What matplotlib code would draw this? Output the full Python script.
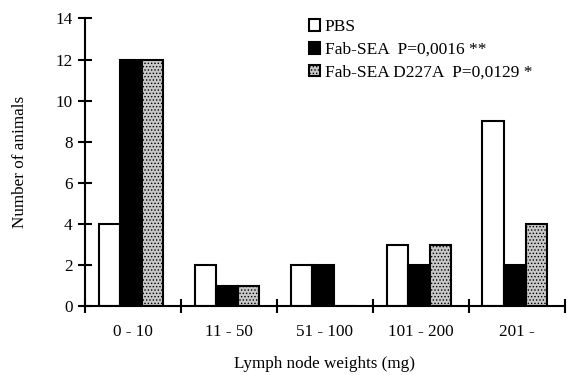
import numpy as np
import matplotlib.pyplot as plt

plt.rcParams['font.family'] = ['Liberation Serif', 'DejaVu Serif']
plt.rcParams['hatch.linewidth'] = 0.6

categories = ['0 - 10', '11 - 50', '51 - 100', '101 - 200', '201 -']
pbs = [4, 2, 2, 3, 9]
fab_sea = [12, 1, 2, 2, 2]
fab_d227a = [12, 1, 0, 3, 4]
labels = ['PBS', 'Fab-SEA  P=0,0016 **', 'Fab-SEA D227A  P=0,0129 *']

fig = plt.figure(figsize=(5.67, 3.75), dpi=100)
ax = fig.add_axes([0.150, 0.183, 0.846, 0.768])

x = np.arange(len(categories)) + 0.5
w = 0.225
ax.bar(x - w - 0.02, pbs, w, facecolor='white', edgecolor='black', linewidth=1.5, label=labels[0])
ax.bar(x - 0.02, fab_sea, w, facecolor='black', edgecolor='black', linewidth=1.5, label=labels[1])
ax.bar(x + w - 0.02, fab_d227a, w, facecolor='#c8c8c8', edgecolor='black', linewidth=1.5,
       hatch='.....', label=labels[2])

ax.set_xlim(0, 5)
ax.set_ylim(0, 14)
ax.set_yticks(range(0, 15, 2))
ax.set_xticks(range(0, 6))
ax.set_xticklabels([])
ax.set_xticks(x, minor=True)
ax.set_xticklabels(categories, minor=True)
ax.tick_params(axis='x', which='minor', length=0, pad=13, labelsize=12.3)
ax.tick_params(axis='x', which='major', direction='inout', length=10, width=1.5)
ax.tick_params(axis='y', direction='inout', length=10, width=1.5, labelsize=12.3, pad=4)

for s in ['top', 'right']:
    ax.spines[s].set_visible(False)
for s in ['left', 'bottom']:
    ax.spines[s].set_linewidth(1.5)

ax.set_xlabel('Lymph node weights (mg)', fontsize=12.3, labelpad=11)
ax.set_ylabel('Number of animals', fontsize=12.3, labelpad=20)

fig.legend(loc='upper left', bbox_to_anchor=(0.545, 0.949), frameon=False, fontsize=12.5,
           handlelength=0.65, handleheight=0.65, handletextpad=0.25, labelspacing=0.39,
           borderaxespad=0, borderpad=0)

fig.savefig('out.png', dpi=100)
